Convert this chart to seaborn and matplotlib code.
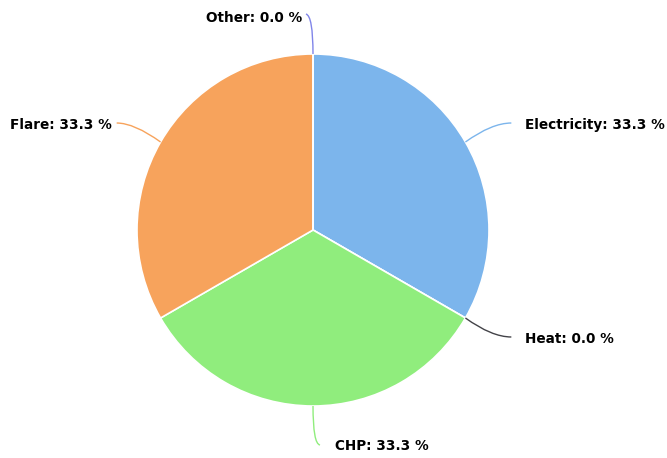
import numpy as np
import matplotlib
matplotlib.use("Agg")
import matplotlib.pyplot as plt
from matplotlib.path import Path
from matplotlib.patches import PathPatch
import seaborn as sns

# ---- data ----
categories = ["Electricity", "Heat", "CHP", "Flare", "Other"]
shares = [33.3, 0.0, 33.3, 33.3, 0.0]
label_texts = [f"{c}: {v:.1f} %" for c, v in zip(categories, shares)]
colors = ["#7cb5ec", "#434348", "#90ed7d", "#f7a35c", "#8085e9"]

sns.set_theme(style="white")
plt.rcParams['font.family'] = ['DejaVu Sans']

W, H = 667, 458
fig = plt.figure(figsize=(W / 100, H / 100), dpi=100)
ax = fig.add_axes([0, 0, 1, 1])

cx, cy, R = 313, H - 230, 176
palette = sns.color_palette(colors)
wedges, _ = ax.pie(shares, colors=palette, startangle=90, counterclock=False,
                   center=(cx, cy), radius=R, normalize=True,
                   wedgeprops=dict(edgecolor="white", linewidth=1.2))

ax.set_xlim(0, W)
ax.set_ylim(0, H)
ax.set_aspect("equal")
ax.axis("off")

dist = 38
for w, txt, col in zip(wedges, label_texts, colors):
    mid = np.deg2rad((w.theta1 + w.theta2) / 2.0)
    c, s = np.cos(mid), np.sin(mid)
    p0 = (cx + R * c, cy + R * s)
    knee = (cx + (R + dist) * c, cy + (R + dist) * s)
    vertical = abs(c) <= 1e-6
    right = c > 1e-6 or (vertical and s < 0)
    sign = 1 if right else -1
    if vertical:
        gap_line, gap_text = 7, (22 if right else 11)
        ctrl = knee
        end = (knee[0] + sign * gap_line, knee[1] + (2 if s > 0 else -1))
    else:
        gap_line, gap_text = (13, 27) if right else (11, 16)
        ctrl = (cx + (R + dist * 0.8) * c, knee[1])
        end = (knee[0] + sign * gap_line, knee[1])
    path = Path([p0, ctrl, end], [Path.MOVETO, Path.CURVE3, Path.CURVE3])
    ax.add_patch(PathPatch(path, facecolor="none", edgecolor=col, lw=1.0))
    tx = knee[0] + sign * gap_text
    ax.text(tx, knee[1] - 2, txt, ha="left" if right else "right", va="center",
            fontsize=9.8, fontweight="bold", color="#000000")

fig.savefig("out.png", dpi=100)
